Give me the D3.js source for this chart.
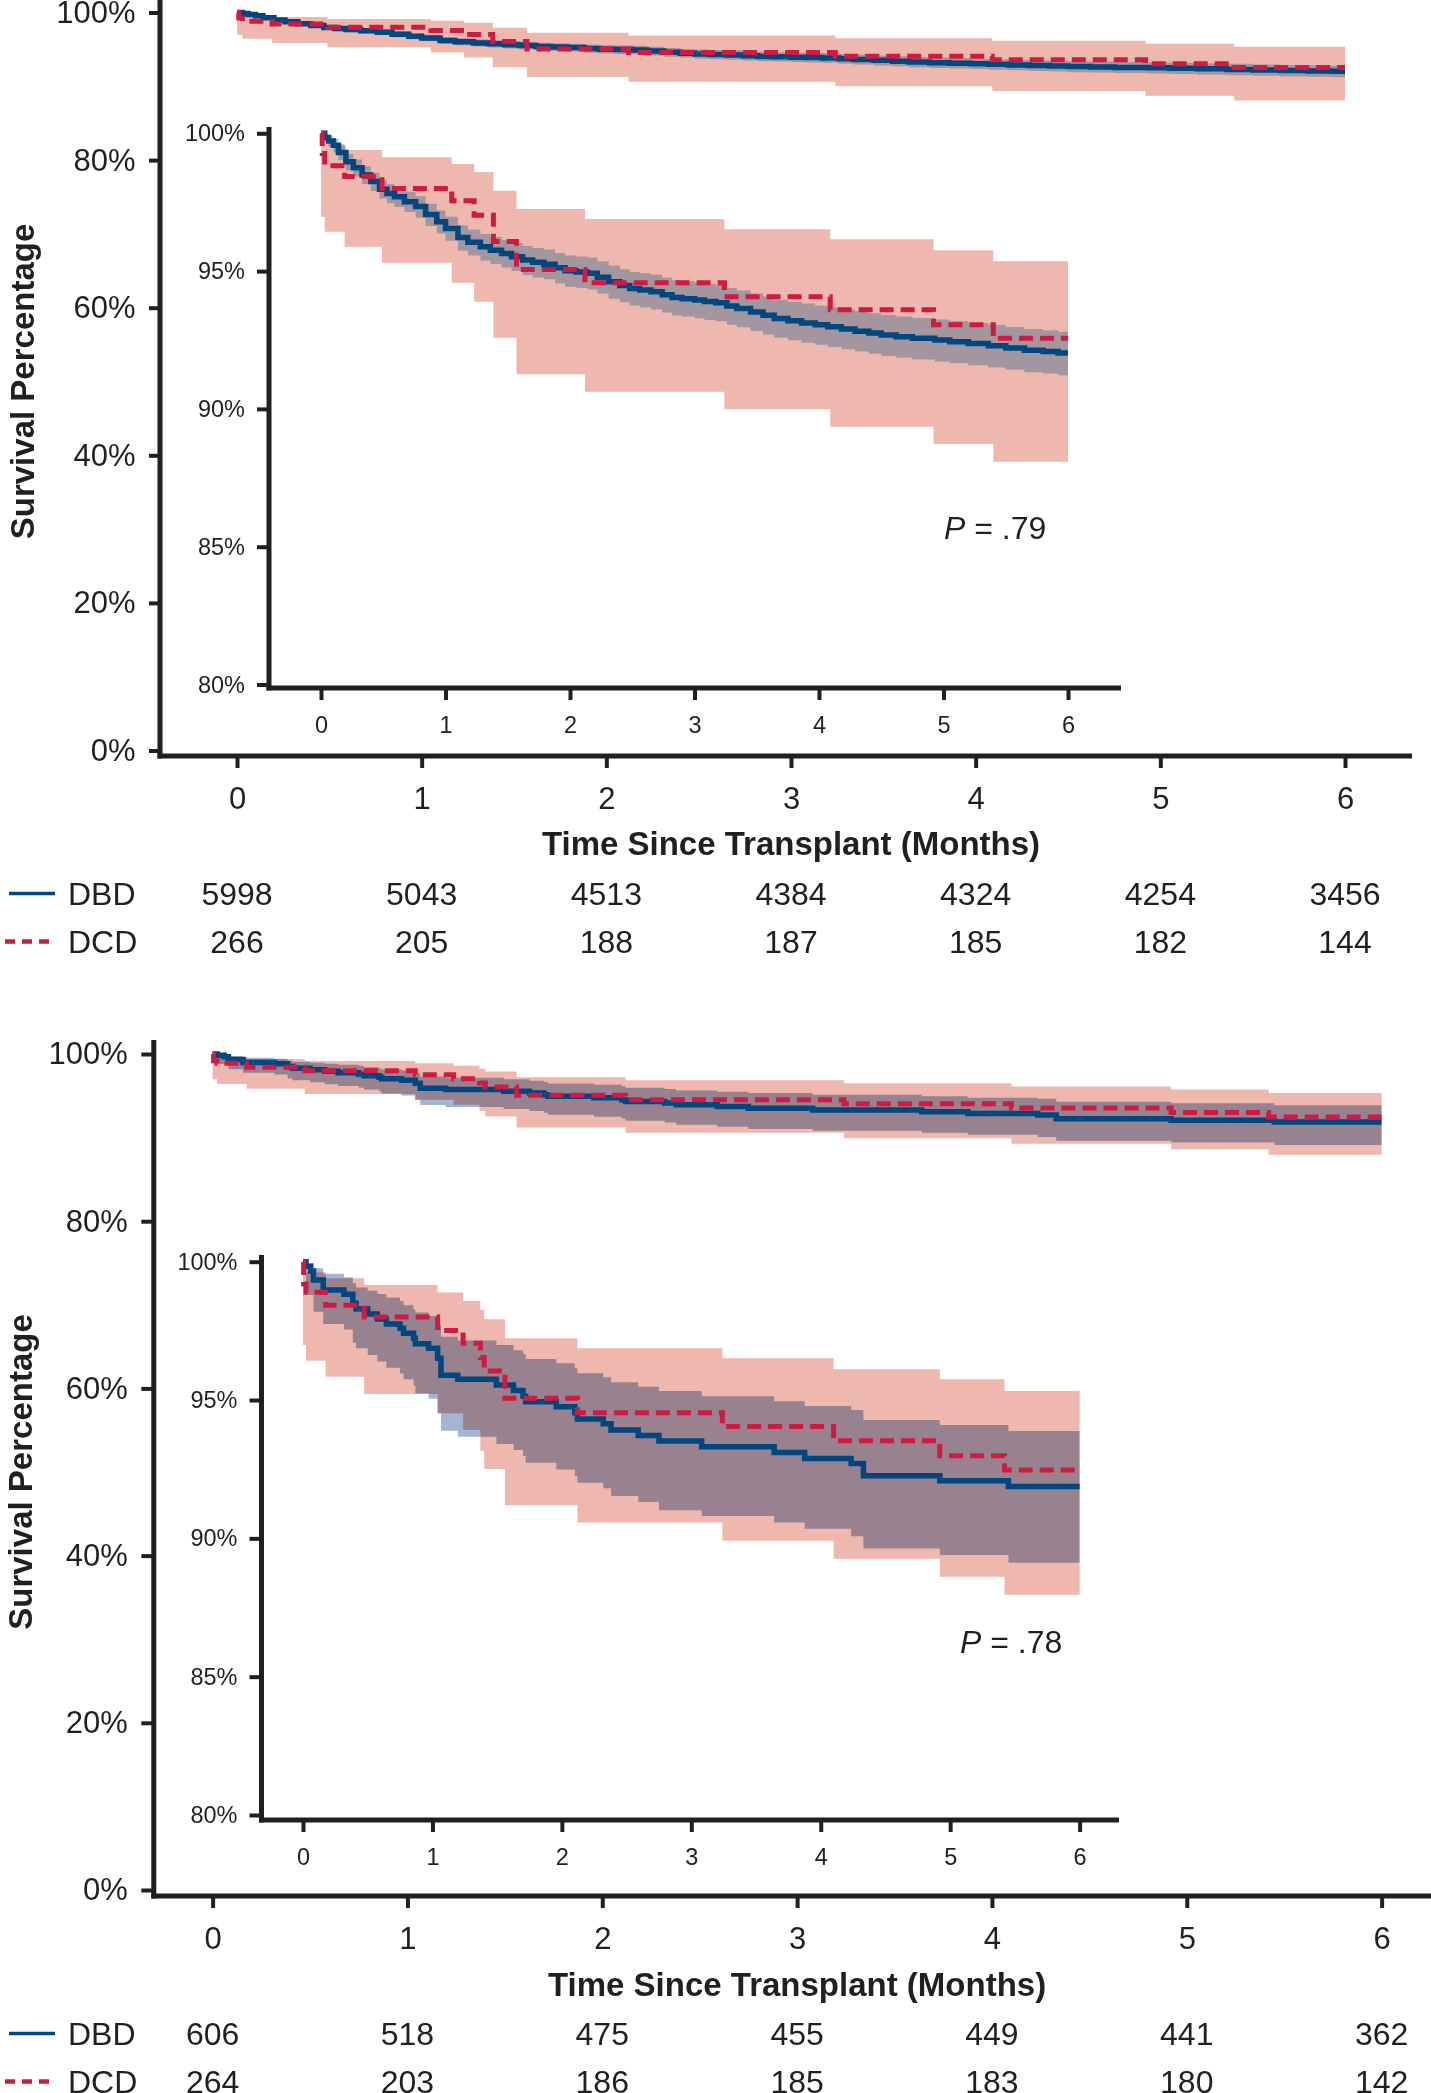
<!DOCTYPE html>
<html>
<head>
<meta charset="utf-8">
<script src="https://cdn.jsdelivr.net/npm/d3@7"></script>
<style>
  body { margin: 0; background: #fff; }
  svg { display: block; }
  text { font-family: "Liberation Sans", Arial, Helvetica, sans-serif; fill: #231f20; }
</style>
</head>
<body>
<svg id="chart" width="1431" height="2093"></svg>
<script>
'use strict';

// ---- data ----
const months = [0, 1, 2, 3, 4, 5, 6];
const mainPctTicks = [0, 20, 40, 60, 80, 100];
const insetPctTicks = [80, 85, 90, 95, 100];
const groupNames = ['DBD', 'DCD'];
const followUpEnd = 6;

const riskA_DBD = [5998, 5043, 4513, 4384, 4324, 4254, 3456];
const riskA_DCD = [266, 205, 188, 187, 185, 182, 144];
const riskB_DBD = [606, 518, 475, 455, 449, 441, 362];
const riskB_DCD = [264, 203, 186, 185, 183, 180, 142];
const pValues = ['.79', '.78'];

// Kaplan-Meier rows: [month, survival %, lower CI %, upper CI %]
const dbdA = [
    [0, 100, 100, 100], [0.03, 99.85, 99.7, 99.98], [0.06, 99.72, 99.5, 99.92],
    [0.1, 99.57, 99.3, 99.8], [0.14, 99.3, 99.02, 99.56], [0.2, 98.97, 98.66, 99.25],
    [0.26, 98.75, 98.43, 99.05], [0.33, 98.49, 98.16, 98.8], [0.4, 98.25, 97.91, 98.57],
    [0.47, 97.97, 97.63, 98.3], [0.53, 97.82, 97.46, 98.16], [0.59, 97.7, 97.33, 98.05],
    [0.67, 97.52, 97.14, 97.88], [0.76, 97.34, 96.94, 97.72], [0.84, 97.05, 96.64, 97.44],
    [0.93, 96.79, 96.36, 97.2], [1.0, 96.55, 96.1, 96.97], [1.1, 96.22, 95.74, 96.66],
    [1.18, 96.05, 95.57, 96.5], [1.28, 95.88, 95.38, 96.35], [1.36, 95.76, 95.26, 96.24],
    [1.45, 95.64, 95.13, 96.13], [1.53, 95.52, 95.0, 96.02], [1.62, 95.4, 94.86, 95.91],
    [1.7, 95.32, 94.77, 95.84], [1.79, 95.25, 94.7, 95.78], [1.88, 95.12, 94.55, 95.66],
    [1.96, 95.01, 94.43, 95.57], [2.05, 94.97, 94.39, 95.53], [2.14, 94.92, 94.33, 95.49],
    [2.22, 94.78, 94.18, 95.36], [2.31, 94.61, 94.0, 95.2], [2.4, 94.48, 93.87, 95.07],
    [2.48, 94.37, 93.75, 94.97], [2.56, 94.31, 93.68, 94.92], [2.65, 94.25, 93.61, 94.87],
    [2.74, 94.14, 93.5, 94.76], [2.82, 94.04, 93.39, 94.67], [2.9, 94.0, 93.35, 94.63],
    [3.0, 93.95, 93.29, 94.59], [3.08, 93.9, 93.23, 94.55], [3.17, 93.85, 93.18, 94.5],
    [3.26, 93.73, 93.05, 94.39], [3.34, 93.64, 92.96, 94.3], [3.45, 93.52, 92.83, 94.19],
    [3.55, 93.4, 92.7, 94.08], [3.64, 93.28, 92.58, 93.96], [3.75, 93.2, 92.49, 93.89],
    [3.86, 93.12, 92.4, 93.82], [3.97, 93.05, 92.33, 93.75], [4.07, 92.98, 92.25, 93.68],
    [4.18, 92.9, 92.16, 93.61], [4.29, 92.82, 92.08, 93.54], [4.4, 92.75, 92.0, 93.47],
    [4.5, 92.68, 91.92, 93.41], [4.62, 92.62, 91.86, 93.35], [4.75, 92.56, 91.79, 93.3],
    [4.93, 92.5, 91.72, 93.24], [5.05, 92.44, 91.66, 93.19], [5.2, 92.37, 91.58, 93.12],
    [5.36, 92.29, 91.5, 93.05], [5.5, 92.21, 91.42, 92.97], [5.65, 92.13, 91.33, 92.9],
    [5.8, 92.08, 91.28, 92.85], [5.92, 92.03, 91.22, 92.8]
];

const dcdA = [
    [0, 100, 96.97, 99.61], [0.01, 99.27, 96.97, 99.61], [0.03, 98.82, 96.43, 99.61],
    [0.19, 98.43, 95.88, 99.39], [0.49, 98.0, 95.3, 99.13], [1.05, 97.55, 94.58, 98.89],
    [1.23, 97.03, 93.89, 98.6], [1.385, 96.07, 92.58, 97.92], [1.57, 95.06, 91.26, 97.25],
    [2.12, 94.58, 90.62, 96.89], [3.24, 94.07, 89.99, 96.52], [4.09, 93.6, 89.35, 96.16],
    [4.92, 93.05, 88.73, 95.76], [5.4, 92.56, 88.08, 95.36]
];

const dbdB = [
    [0, 100, 99.6, 100], [0.023, 99.84, 98.8, 99.94], [0.059, 99.66, 98.8, 99.94],
    [0.081, 99.34, 98.19, 99.76], [0.156, 98.98, 97.75, 99.56], [0.316, 98.82, 97.55, 99.44],
    [0.385, 98.5, 97.07, 99.22], [0.41, 98.29, 96.87, 99.07], [0.5, 98.11, 96.63, 98.95],
    [0.575, 97.93, 96.39, 98.83], [0.644, 97.75, 96.17, 98.71], [0.749, 97.59, 95.96, 98.58],
    [0.777, 97.41, 95.75, 98.43], [0.854, 97.23, 95.52, 98.27], [0.868, 97.03, 95.24, 98.16],
    [0.97, 96.87, 95.05, 98.04], [1.04, 96.51, 94.52, 97.71], [1.066, 95.9, 93.89, 97.29],
    [1.196, 95.75, 93.67, 97.15], [1.494, 95.54, 93.41, 96.99], [1.626, 95.34, 93.19, 96.8],
    [1.7, 95.14, 92.98, 96.66], [1.72, 94.94, 92.73, 96.48], [1.957, 94.76, 92.49, 96.33],
    [2.1, 94.54, 92.25, 96.15], [2.12, 94.31, 92.01, 95.97], [2.32, 94.14, 91.81, 95.82],
    [2.38, 93.92, 91.53, 95.64], [2.59, 93.72, 91.31, 95.48], [2.75, 93.52, 91.02, 95.33],
    [3.08, 93.31, 90.81, 95.14], [3.64, 93.1, 90.57, 94.96], [3.876, 92.89, 90.35, 94.78],
    [4.235, 92.71, 90.08, 94.64], [4.33, 92.26, 89.63, 94.28], [4.92, 92.08, 89.4, 94.1],
    [5.45, 91.87, 89.12, 93.88]
];

const dcdB = [
    [0, 100, 96.99, 99.84], [0.005, 99.19, 96.99, 99.84], [0.023, 98.9, 96.42, 99.62],
    [0.175, 98.43, 95.84, 99.4], [0.473, 98.0, 95.22, 99.16], [1.04, 97.51, 94.52, 98.89],
    [1.237, 97.05, 93.92, 98.58], [1.37, 96.54, 93.17, 98.25], [1.4, 96.05, 92.51, 97.92],
    [1.56, 95.06, 91.2, 97.23], [2.12, 94.54, 90.57, 96.87], [3.24, 94.04, 89.91, 96.51],
    [4.1, 93.53, 89.26, 96.11], [4.92, 92.99, 88.61, 95.75], [5.42, 92.47, 87.96, 95.33]
];

// ---- look ----
const ink = '#231f20';
const colors = { dbd: '#00467f', dcd: '#cf1a41', dcdBand: '#eeb8ae' };
const axisWidth = 5;
const tickWidth = 4;

// pixel layout of the two panels
const panels = [
    {
        dbd: dbdA, dcd: dcdA, risk: [riskA_DBD, riskA_DCD], p: pValues[0], band: '#b0d0e8',
        main: { x0: 237, x1: 1345, yTop: 12.5, yBot: 750.5, axisX: 160, axisY: 756, axisTop: -5, axisRight: 1412, ytick: 11, ypad: 13.5 },
        inset: { x0: 321, x1: 1068, yTop: 133.3, yBot: 684.5, axisX: 269, axisY: 688, axisTop: 127, axisRight: 1121, ytick: 12, ypad: 12 },
        xTitleY: 855, yTitleX: 22, riskY: [905, 953], pPos: [944, 539]
    },
    {
        dbd: dbdB, dcd: dcdB, risk: [riskB_DBD, riskB_DCD], p: pValues[1], band: '#a4b4d3',
        main: { x0: 212.6, x1: 1381.6, yTop: 1054, yBot: 1890, axisX: 153.8, axisY: 1896, axisTop: 1040, axisRight: 1440, ytick: 12.5, ypad: 13.5 },
        inset: { x0: 303, x1: 1079.6, yTop: 1261.7, yBot: 1815, axisX: 261.5, axisY: 1820, axisTop: 1255, axisRight: 1119, ytick: 12, ypad: 12 },
        xTitleY: 1996, yTitleX: 20, riskY: [2045, 2093], pPos: [960, 1653]
    }
];

const svg = d3.select('#chart');
svg.append('rect').attr('width', 1431).attr('height', 2093).attr('fill', '#fff');

function withEnd(rows) {
    const last = rows[rows.length - 1];
    return rows.concat([[followUpEnd, last[1], last[2], last[3]]]);
}

function drawCurves(g, x, y, dbd, dcd, bandColor) {
    const band = d3.area().curve(d3.curveStepAfter)
        .x(d => x(d[0])).y0(d => y(d[2])).y1(d => y(d[3]));
    const km = d3.line().curve(d3.curveStepAfter)
        .x(d => x(d[0])).y(d => y(d[1]));

    g.append('path').attr('d', band(withEnd(dcd))).attr('fill', colors.dcdBand);
    g.append('path').attr('d', band(withEnd(dbd))).attr('fill', bandColor)
        .style('mix-blend-mode', 'multiply');
    g.append('path').attr('d', km(withEnd(dbd)))
        .attr('fill', 'none').attr('stroke', colors.dbd).attr('stroke-width', 5.5);
    g.append('path').attr('d', km(withEnd(dcd)))
        .attr('fill', 'none').attr('stroke', colors.dcd).attr('stroke-width', 5)
        .attr('stroke-dasharray', '14,7');
}

function drawAxes(g, x, y, lay, pctTicks, fontSize, xPad) {
    const ya = g.append('g').attr('transform', `translate(${lay.axisX},0)`)
        .call(d3.axisLeft(y).tickValues(pctTicks).tickSize(lay.ytick)
            .tickPadding(lay.ypad).tickFormat(d => d + '%'));
    const xa = g.append('g').attr('transform', `translate(0,${lay.axisY})`)
        .call(d3.axisBottom(x).tickValues(months).tickSize(12).tickPadding(xPad)
            .tickFormat(d3.format('d')));

    [ya, xa].forEach(a => {
        a.attr('font-family', null).attr('font-size', null);
        a.select('.domain').remove();
        a.selectAll('.tick line').attr('stroke', ink).attr('stroke-width', tickWidth);
        a.selectAll('.tick text').style('font-size', fontSize + 'px').attr('fill', ink);
    });

    // axis lines (they run past the scale range, so drawn by hand)
    g.append('line')
        .attr('x1', lay.axisX).attr('x2', lay.axisX)
        .attr('y1', lay.axisTop).attr('y2', lay.axisY + axisWidth / 2)
        .attr('stroke', ink).attr('stroke-width', axisWidth);
    g.append('line')
        .attr('x1', lay.axisX - axisWidth / 2).attr('x2', lay.axisRight)
        .attr('y1', lay.axisY).attr('y2', lay.axisY)
        .attr('stroke', ink).attr('stroke-width', axisWidth);
}

panels.forEach(pn => {
    const g = svg.append('g');

    // main plot
    const xMain = d3.scaleLinear().domain([0, 6]).range([pn.main.x0, pn.main.x1]);
    const yMain = d3.scaleLinear().domain([0, 100]).range([pn.main.yBot, pn.main.yTop]);
    drawCurves(g, xMain, yMain, pn.dbd, pn.dcd, pn.band);
    drawAxes(g, xMain, yMain, pn.main, mainPctTicks, 31, 18.5);

    // zoomed inset (80-100%)
    const xIn = d3.scaleLinear().domain([0, 6]).range([pn.inset.x0, pn.inset.x1]);
    const yIn = d3.scaleLinear().domain([80, 100]).range([pn.inset.yBot, pn.inset.yTop]);
    drawCurves(g, xIn, yIn, pn.dbd, pn.dcd, pn.band);
    drawAxes(g, xIn, yIn, pn.inset, insetPctTicks, 23.5, 16.5);

    // titles
    g.append('text')
        .attr('x', (pn.main.x0 + pn.main.x1) / 2).attr('y', pn.xTitleY)
        .attr('text-anchor', 'middle')
        .style('font-size', '33px').style('font-weight', 'bold')
        .text('Time Since Transplant (Months)');
    g.append('text')
        .attr('transform', `translate(${pn.yTitleX},${(pn.main.yTop + pn.main.yBot) / 2}) rotate(-90)`)
        .attr('text-anchor', 'middle').attr('dominant-baseline', 'central')
        .style('font-size', '33px').style('font-weight', 'bold')
        .text('Survival Percentage');

    // P value
    const pt = g.append('text').attr('x', pn.pPos[0]).attr('y', pn.pPos[1])
        .style('font-size', '32px');
    pt.append('tspan').style('font-style', 'italic').text('P');
    pt.append('tspan').text(' = ' + pn.p);

    // numbers at risk
    groupNames.forEach((name, i) => {
        const ry = pn.riskY[i];
        const ly = ry - 11.5;
        g.append('line')
            .attr('x1', i === 0 ? 9 : 5).attr('x2', 55)
            .attr('y1', ly).attr('y2', ly)
            .attr('stroke', i === 0 ? colors.dbd : colors.dcd)
            .attr('stroke-width', i === 0 ? 3.5 : 4.5)
            .attr('stroke-dasharray', i === 0 ? null : '10,7');
        g.append('text').attr('x', 68).attr('y', ry)
            .style('font-size', '32px').text(name);
        g.selectAll(null).data(pn.risk[i]).join('text')
            .attr('x', (d, k) => xMain(months[k])).attr('y', ry)
            .attr('text-anchor', 'middle')
            .style('font-size', '32px')
            .text(d => d);
    });
});
</script>
</body>
</html>
